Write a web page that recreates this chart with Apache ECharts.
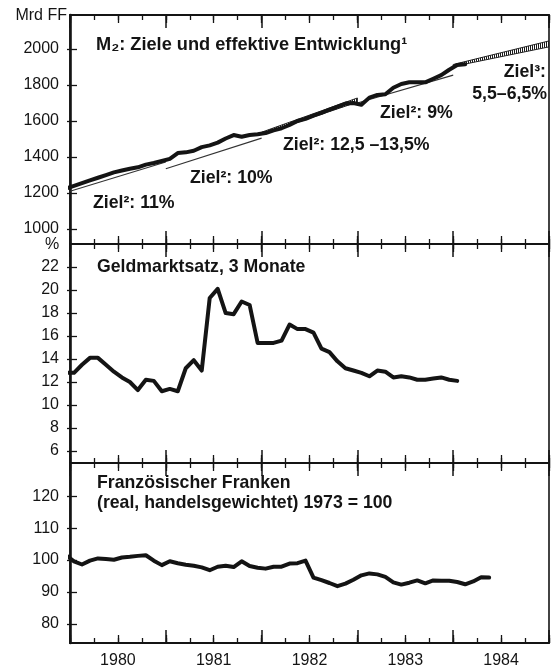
<!DOCTYPE html>
<html><head><meta charset="utf-8">
<script src="https://cdn.jsdelivr.net/npm/echarts@6/dist/echarts.min.js"></script>
<style>html,body{margin:0;padding:0;background:#fff}#c{width:557px;height:667px}</style>
</head><body><div id="c"></div>
<script>
// Monthly series: index 0 = Dec 1979, index 1 = Jan 1980, ... (plotted at mid-month)
const years = ['1980', '1981', '1982', '1983', '1984'];

// M2, Mrd FF (effective development)
const m2Actual = [1225, 1240, 1255, 1270, 1285, 1300, 1315, 1325, 1335, 1343, 1358, 1367, 1378,
  1390, 1422, 1426, 1435, 1455, 1465, 1480, 1503, 1522, 1513, 1522, 1527,
  1533, 1548, 1560, 1578, 1600, 1612, 1630, 1645, 1664, 1680, 1697, 1700,
  1690, 1730, 1745, 1749, 1785, 1806, 1815, 1815, 1815, 1835, 1855, 1885,
  1911, 1915];

// Targets (value at start and end of the year)
const ziel1980 = [1210, 1372];
const ziel1981 = [1335, 1505];
const ziel1982Lo = [1525, 1705];
const ziel1982Hi = [1538, 1728];
const ziel1983 = [1700, 1855];
const ziel1984Lo = [1903, 2012];
const ziel1984Hi = [1914, 2045];

// Geldmarktsatz, 3 Monate (%)
const geldmarkt = [12.8, 12.8, 13.5, 14.1, 14.1, 13.5, 12.9, 12.4, 12.0, 11.3, 12.2, 12.1, 11.2,
  11.4, 11.2, 13.2, 13.9, 13.0, 19.3, 20.1, 18.0, 17.9, 19.0, 18.7, 15.4,
  15.4, 15.4, 15.6, 17.0, 16.6, 16.6, 16.3, 14.9, 14.6, 13.8, 13.2, 13.0,
  12.8, 12.5, 13.0, 12.9, 12.4, 12.5, 12.4, 12.2, 12.2, 12.3, 12.4, 12.2,
  12.1];

// Französischer Franken (real, handelsgewichtet) 1973 = 100
const franken = [101.5, 99.6, 98.6, 99.8, 100.5, 100.3, 100.1, 100.8, 101.0, 101.3, 101.5, 99.8, 98.4,
  99.6, 99.0, 98.5, 98.2, 97.7, 96.8, 97.9, 98.2, 97.8, 99.6, 98.1, 97.6,
  97.3, 97.9, 97.9, 98.9, 99.0, 99.8, 94.5, 93.7, 92.8, 91.8, 92.6, 93.8,
  95.2, 95.8, 95.5, 94.7, 93.0, 92.3, 92.9, 93.6, 92.7, 93.6, 93.5, 93.5,
  93.1, 92.4, 93.3, 94.6, 94.5];

// Tick labels
const m2Ticks = [1000, 1200, 1400, 1600, 1800, 2000];
const rateTicks = [6, 8, 10, 12, 14, 16, 18, 20, 22];
const ffTicks = [80, 90, 100, 110, 120];

const INK = '#141414';
const FONT = '"Liberation Sans", Arial, sans-serif';

function monthly(arr) { return arr.map((v, i) => [i - 0.5, v]); }
function yearSeg(yearLabel, pair) {
  const y0 = years.indexOf(yearLabel) * 12;
  return [[y0, pair[0]], [y0 + 12, pair[1]]];
}

// hatch pattern
const pc = document.createElement('canvas');
pc.width = 2; pc.height = 2;
const pctx = pc.getContext('2d');
pctx.fillStyle = '#1a1a1a';
pctx.fillRect(0, 0, 1, 2);
const hatch = { image: pc, repeat: 'repeat' };

const grids = [
  { left: 70, right: 8, top: 15, height: 229 },
  { left: 70, right: 8, top: 244, height: 219 },
  { left: 70, right: 8, top: 463, height: 180 }
].map(g => Object.assign(g, { show: true, borderColor: INK, borderWidth: 1.6, backgroundColor: 'transparent',
  containLabel: false, outerBoundsMode: 'none' }));

const yRanges = [[917, 2189], [4.96, 24], [74, 130.4]];
const yTicks = [m2Ticks, rateTicks, ffTicks];

const xAxis = [];
const yAxis = [];
grids.forEach((g, gi) => {
  ['bottom', 'top'].forEach(pos => {
    xAxis.push({ gridIndex: gi, type: 'value', min: 0, max: 60, interval: 3, position: pos,
      axisLine: { show: true, lineStyle: { color: INK, width: 2.2 } },
      axisTick: { show: true, inside: true, length: 5, lineStyle: { color: INK, width: 1.3 } },
      axisLabel: { show: false }, splitLine: { show: false } });
    xAxis.push({ gridIndex: gi, type: 'value', min: 0, max: 60, interval: 6, position: pos,
      axisLine: { show: false },
      axisTick: { show: true, inside: true, length: 8, lineStyle: { color: INK, width: 1.3 } },
      axisLabel: { show: false }, splitLine: { show: false } });
    xAxis.push({ gridIndex: gi, type: 'category', data: years, position: pos,
      axisLine: { show: false },
      axisTick: { show: true, inside: true, length: 13, interval: 0, lineStyle: { color: INK, width: 1.5 } },
      axisLabel: { show: gi === 2 && pos === 'bottom', interval: 0, fontSize: 16, color: INK, fontFamily: FONT, margin: 10 },
      splitLine: { show: false } });
  });
  yAxis.push({ gridIndex: gi, type: 'value', min: yRanges[gi][0], max: yRanges[gi][1], position: 'left',
    axisLine: { show: true, lineStyle: { color: INK, width: 2.6 } },
    axisTick: { show: true, inside: false, length: 3, customValues: yTicks[gi], lineStyle: { color: INK, width: 1.3 } },
    axisLabel: { show: true, customValues: yTicks[gi], formatter: v => String(v), fontSize: 16, color: INK, fontFamily: FONT, margin: 11 },
    splitLine: { show: false } });
  yAxis.push({ gridIndex: gi, type: 'value', min: yRanges[gi][0], max: yRanges[gi][1], position: 'left',
    axisLine: { show: false },
    axisTick: { show: true, inside: true, length: 7, customValues: yTicks[gi], lineStyle: { color: INK, width: 1.3 } },
    axisLabel: { show: false }, splitLine: { show: false } });
});

const thin = { color: '#333', width: 1.1 };
function seg(data) {
  return { type: 'line', xAxisIndex: 0, yAxisIndex: 0, data, symbol: 'none',
    lineStyle: thin, z: 2, silent: true, animation: false };
}
function band(yearLabel, lo, hi) {
  const y0 = years.indexOf(yearLabel) * 12;
  return { type: 'custom', xAxisIndex: 0, yAxisIndex: 0, z: 2, silent: true, animation: false, clip: true,
    data: [[y0, lo[0], y0 + 12, lo[1], hi[0], hi[1]]],
    encode: { x: [0, 2], y: [1, 3, 4, 5] },
    renderItem: (params, api) => {
      const a = api.coord([api.value(0), api.value(1)]);
      const b = api.coord([api.value(2), api.value(3)]);
      const c = api.coord([api.value(2), api.value(5)]);
      const d = api.coord([api.value(0), api.value(4)]);
      return { type: 'polygon', shape: { points: [a, b, c, d] },
        style: { fill: hatch, stroke: '#222', lineWidth: 1 } };
    } };
}
const thick = { color: INK, width: 4, join: 'round', cap: 'round' };

const series = [
  seg(yearSeg('1980', ziel1980)),
  seg(yearSeg('1981', ziel1981)),
  band('1982', ziel1982Lo, ziel1982Hi),
  seg(yearSeg('1983', ziel1983)),
  band('1984', ziel1984Lo, ziel1984Hi),
  { type: 'line', xAxisIndex: 0, yAxisIndex: 0, data: monthly(m2Actual), symbol: 'none', lineStyle: thick, z: 5, animation: false },
  { type: 'line', xAxisIndex: 6, yAxisIndex: 2, data: monthly(geldmarkt), symbol: 'none', lineStyle: thick, z: 5, animation: false },
  { type: 'line', xAxisIndex: 12, yAxisIndex: 4, data: monthly(franken), symbol: 'none', lineStyle: thick, z: 5, animation: false }
];

function txt(x, y, text, opts) {
  opts = opts || {};
  return { type: 'text', x, y, z: 10, silent: true,
    style: { text, fill: INK, font: (opts.weight || 'bold') + ' ' + (opts.size || 17.7) + 'px ' + FONT,
      align: opts.align || 'left', verticalAlign: 'middle', textAlign: opts.align || 'left', textVerticalAlign: 'middle' } };
}

const graphic = [
  txt(67, 16, 'Mrd FF', { weight: 'normal', size: 16, align: 'right' }),
  txt(52, 245, '%', { weight: 'normal', size: 16, align: 'center' }),
  txt(96, 45, 'M\u2082: Ziele und effektive Entwicklung\u00b9', { size: 18.2 }),
  txt(93, 203, 'Ziel\u00b2: 11%'),
  txt(190, 178, 'Ziel\u00b2: 10%'),
  txt(283, 145, 'Ziel\u00b2: 12,5 \u201313,5%'),
  txt(380, 113, 'Ziel\u00b2: 9%'),
  txt(546, 72, 'Ziel\u00b3:', { align: 'right' }),
  txt(547, 94, '5,5\u20136,5%', { align: 'right' }),
  txt(97, 267, 'Geldmarktsatz, 3 Monate'),
  txt(97, 483, 'Französischer Franken'),
  txt(97, 503, '(real, handelsgewichtet) 1973 = 100')
];

const chart = echarts.init(document.getElementById('c'), null, { renderer: 'canvas' });
chart.setOption({ backgroundColor: '#fff', animation: false, grid: grids, xAxis, yAxis, series, graphic });
</script></body></html>
